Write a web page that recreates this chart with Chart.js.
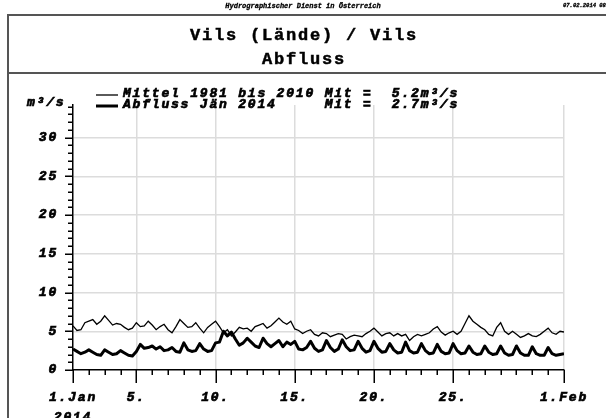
<!DOCTYPE html>
<html>
<head>
<meta charset="utf-8">
<script src="https://cdn.jsdelivr.net/npm/chart.js@4/dist/chart.umd.min.js"></script>
<style>
  html, body { margin: 0; padding: 0; background: #fff; }
  #wrap { width: 606px; height: 418px; position: relative; }
</style>
</head>
<body>
<div id="wrap"><canvas id="c" width="606" height="418"></canvas></div>
<script>
// Sampling interval of both series, in days (6-hourly values from 1 Jan 00:00 to 1 Feb 00:00)
const stepDays = 0.25;

// Long-term mean discharge 1981-2010, m³/s
const mittel = [
  5.7, 5.1, 5.2, 6.1,  6.3, 6.5, 5.9, 6.3,  7.0, 6.4, 5.8, 6.0,  5.9, 5.5, 5.2, 5.4,
  6.1, 5.6, 5.7, 6.3,  5.8, 5.2, 5.6, 5.9,  5.2, 4.8, 5.6, 6.5,  6.0, 5.5, 5.6, 6.1,
  5.4, 4.8, 5.5, 5.9,  6.3, 5.6, 4.8, 5.2,  4.4, 4.9, 5.5, 5.3,  5.4, 5.0, 5.6, 5.8,
  6.0, 5.4, 5.7, 6.2,  6.7, 6.2, 5.9, 6.3,  5.3, 5.1, 4.7, 5.0,  5.2, 4.6, 4.4, 4.8,
  4.7, 4.3, 4.5, 4.7,  4.6, 4.0, 4.3, 4.5,  4.4, 4.3, 4.7, 5.0,  5.4, 4.9, 4.4, 4.7,
  4.8, 4.4, 4.7, 4.4,  4.6, 3.8, 4.3, 4.6,  4.4, 4.6, 4.8, 5.3,  5.6, 4.9, 4.5, 4.8,
  5.0, 4.6, 5.0, 6.0,  7.0, 6.3, 5.9, 5.5,  5.2, 4.6, 4.4, 5.5,  6.1, 5.0, 4.6, 5.0,
  4.6, 4.2, 4.4, 4.7,  4.4, 4.3, 4.6, 5.0,  5.4, 4.8, 4.6, 5.0,  4.9
];

// Discharge January 2014, m³/s
const abfluss = [
  2.7, 2.4, 2.1, 2.3,  2.6, 2.3, 2.0, 1.9,  2.6, 2.3, 2.0, 2.1,  2.5, 2.2, 1.9, 1.8,
  2.4, 3.3, 2.8, 2.9,  3.1, 2.7, 3.0, 2.5,  2.6, 2.9, 2.4, 2.3,  3.5, 2.6, 2.4, 2.5,
  3.4, 2.7, 2.4, 2.5,  3.5, 3.6, 5.0, 4.4,  4.9, 4.0, 3.2, 3.5,  4.1, 3.6, 3.1, 2.9,
  4.1, 3.4, 3.0, 3.4,  3.8, 3.0, 3.6, 3.3,  3.7, 2.7, 2.6, 2.9,  3.7, 2.8, 2.4, 2.6,
  3.8, 2.9, 2.4, 2.7,  3.9, 3.0, 2.5, 2.6,  3.7, 2.8, 2.3, 2.5,  3.7, 2.8, 2.3, 2.4,
  3.4, 2.6, 2.2, 2.3,  3.6, 2.5, 2.2, 2.3,  3.4, 2.5, 2.1, 2.2,  3.3, 2.4, 2.1, 2.2,
  3.4, 2.5, 2.1, 2.2,  3.1, 2.3, 2.0, 2.1,  3.1, 2.3, 2.0, 2.1,  3.1, 2.2, 1.9, 2.0,
  3.1, 2.2, 1.9, 1.9,  3.0, 2.1, 1.9, 1.9,  2.9, 2.1, 1.9, 2.0,  2.1
];

// Labelled days on the time axis (days after 1 Jan) and their labels
const tickDays = [0, 4, 9, 14, 19, 24, 31];
const tickLabels = [['1.Jan', '2014'], '5.', '10.', '15.', '20.', '25.', '1.Feb'];

// Legend entries and their monthly means
const seriesNames = ['Mittel 1981 bis 2010', 'Abfluss Jän 2014'];
const seriesMeans = ['5.2', '2.7'];

const titleLines = ['Vils (Lände) / Vils', 'Abfluss'];
const headerText = 'Hydrographischer Dienst in Österreich';
const stampText = '07.02.2014 08:00';
const unitText = 'm³/s';

const FONT = '"Liberation Mono", "DejaVu Sans Mono", monospace';
// wide, low typewriter look: small size plus extra letter spacing
const LABEL_SPACING = '1.8px';
const TEXT_STROKE = 0.7;
const tickFont = { family: FONT, size: 13, style: 'italic', weight: 'bold', lineHeight: 1.5 };
const GRID = '#dcdcdc';
const NONE = 'rgba(0,0,0,0)';

const toPoints = arr => arr.map((v, i) => ({ x: i * stepDays, y: v }));

// Letter spacing for every text the chart draws
const spacing = {
  id: 'spacing',
  beforeLayout(chart) { chart.ctx.letterSpacing = LABEL_SPACING; },
  beforeDraw(chart) { chart.ctx.letterSpacing = LABEL_SPACING; }
};

// Tick marks of both axes: long ones at labelled values, short ones in between
const tickMarks = {
  id: 'tickMarks',
  afterDraw(chart) {
    const { ctx, scales: { x, y } } = chart;
    ctx.save();
    ctx.strokeStyle = '#000';
    ctx.lineWidth = 1.5;
    ctx.beginPath();
    for (let d = x.min; d <= x.max; d++) {
      const px = Math.round(x.getPixelForValue(d)) + 0.25;
      const len = tickDays.includes(d) ? 13 : 5;
      ctx.moveTo(px, y.bottom);
      ctx.lineTo(px, y.bottom + len);
    }
    for (let v = 0; v <= Math.floor(y.max); v++) {
      const py = Math.round(y.getPixelForValue(v)) + 0.25;
      const len = v % 5 === 0 ? 8 : 5;
      ctx.moveTo(x.left - len, py);
      ctx.lineTo(x.left, py);
    }
    ctx.stroke();
    ctx.restore();
  }
};

// filled and lightly outlined text, for a heavier face
function boldText(ctx, text, x, y, stroke) {
  ctx.fillText(text, x, y);
  if (stroke > 0) {
    ctx.lineWidth = stroke;
    ctx.strokeStyle = ctx.fillStyle;
    ctx.strokeText(text, x, y);
  }
}

// Page frame, header line, title block, unit label and legend
const decor = {
  id: 'decor',
  afterDraw(chart) {
    const { ctx } = chart;
    ctx.save();

    ctx.fillStyle = '#000';
    ctx.letterSpacing = '0px';
    ctx.font = 'italic bold 7px ' + FONT;
    ctx.textAlign = 'center';
    ctx.textBaseline = 'middle';
    boldText(ctx, headerText, 303, 6, 0.3);
    ctx.font = 'italic bold 5.5px ' + FONT;
    ctx.textAlign = 'left';
    boldText(ctx, stampText, 563, 6, 0.3);

    ctx.strokeStyle = '#555';
    ctx.lineWidth = 2;
    ctx.beginPath();
    ctx.moveTo(8, 418);
    ctx.lineTo(8, 15);
    ctx.lineTo(606, 15);
    ctx.moveTo(8, 73);
    ctx.lineTo(606, 73);
    ctx.stroke();

    ctx.letterSpacing = '1.8px';
    ctx.font = 'bold 17px ' + FONT;
    ctx.textAlign = 'center';
    boldText(ctx, titleLines[0], 304, 36, 0.5);
    boldText(ctx, titleLines[1], 304, 60, 0.5);

    ctx.letterSpacing = LABEL_SPACING;
    ctx.font = 'italic bold 13px ' + FONT;
    ctx.textBaseline = 'alphabetic';
    ctx.textAlign = 'left';
    boldText(ctx, unitText, 27, 106, TEXT_STROKE);

    const ds = chart.data.datasets;
    const rows = [97, 108];
    const pad = Math.max(...seriesNames.map(s => s.length)) + 1;
    seriesNames.forEach((name, i) => {
      ctx.strokeStyle = ds[i].borderColor;
      ctx.lineWidth = ds[i].borderWidth;
      ctx.beginPath();
      ctx.moveTo(96, rows[i] - 2);
      ctx.lineTo(118, rows[i] - 2);
      ctx.stroke();
      boldText(ctx, name.padEnd(pad, ' ') + 'Mit =  ' + seriesMeans[i] + unitText, 123, rows[i], TEXT_STROKE);
    });

    ctx.restore();
  }
};

new Chart(document.getElementById('c'), {
  type: 'line',
  data: {
    datasets: [
      { label: seriesNames[0], data: toPoints(mittel), borderColor: '#000', borderWidth: 1.3,
        pointRadius: 0, tension: 0, fill: false },
      { label: seriesNames[1], data: toPoints(abfluss), borderColor: '#000', borderWidth: 3,
        pointRadius: 0, tension: 0, fill: false, borderJoinStyle: 'round' }
    ]
  },
  options: {
    responsive: false,
    animation: false,
    devicePixelRatio: 1,
    layout: { padding: { left: 0, top: 105, right: 37, bottom: 0 } },
    plugins: { legend: { display: false }, tooltip: { enabled: false }, title: { display: false } },
    scales: {
      x: {
        type: 'linear',
        min: 0,
        max: 31,
        afterFit: s => { s.height = 48; },
        ticks: {
          stepSize: 1,
          autoSkip: false,
          maxRotation: 0,
          minRotation: 0,
          padding: 18,
          color: '#000',
          textStrokeColor: '#000',
          textStrokeWidth: TEXT_STROKE,
          font: tickFont,
          callback: v => { const i = tickDays.indexOf(v); return i >= 0 ? tickLabels[i] : ''; }
        },
        grid: {
          drawTicks: false,
          lineWidth: 1.5,
          color: c => (c.tick && c.tick.value > 0 && tickDays.includes(c.tick.value)) ? GRID : NONE
        },
        border: { display: true, color: '#000', width: 1.5 }
      },
      y: {
        type: 'linear',
        min: 0,
        max: 34.2,
        afterFit: s => { s.width = 73; },
        ticks: {
          stepSize: 1,
          autoSkip: false,
          padding: 15,
          color: '#000',
          textStrokeColor: '#000',
          textStrokeWidth: TEXT_STROKE,
          font: tickFont,
          callback: v => (Number.isInteger(v) && v % 5 === 0) ? String(v) : ''
        },
        grid: {
          drawTicks: false,
          lineWidth: 1.5,
          color: c => (c.tick && Number.isInteger(c.tick.value) && c.tick.value > 0 && c.tick.value % 5 === 0) ? GRID : NONE
        },
        border: { display: true, color: '#000', width: 1.5 }
      }
    }
  },
  plugins: [spacing, tickMarks, decor]
});
</script>
</body>
</html>
